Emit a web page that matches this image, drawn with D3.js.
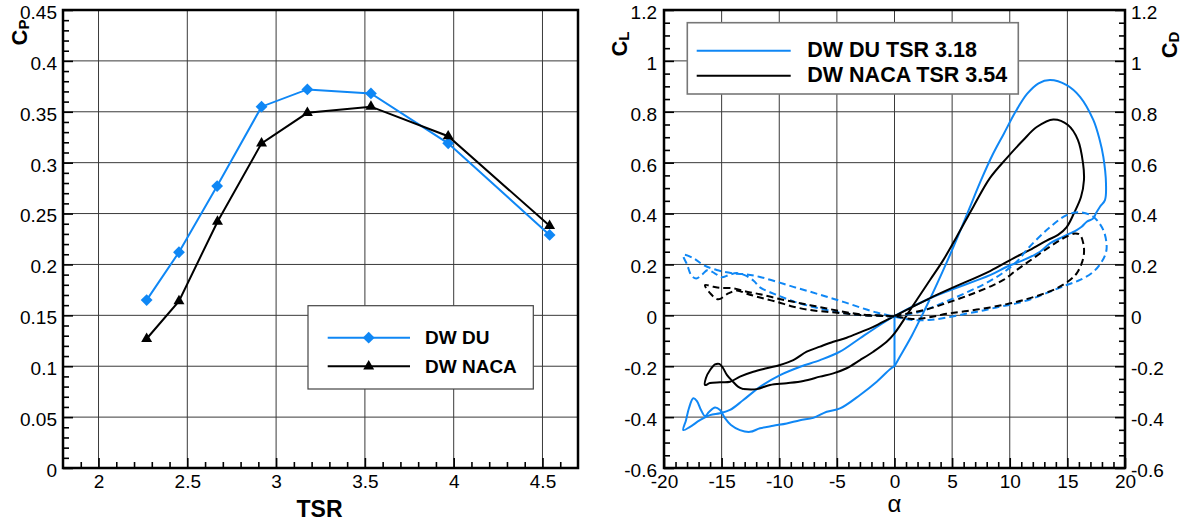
<!DOCTYPE html>
<html><head><meta charset="utf-8">
<script src="https://cdn.jsdelivr.net/npm/d3@7"></script>
<style>
body{margin:0;background:#fff;}
svg text{font-family:"Liberation Sans",Arial,Helvetica,sans-serif;}
</style></head><body>
<svg id="c" width="1198" height="524"></svg>
<script>
// ---------- Left chart data ----------
const tsrDU   = [2.271, 2.453, 2.668, 2.918, 3.176, 3.534, 3.969, 4.540];
const cpDU    = [0.165, 0.212, 0.277, 0.355, 0.372, 0.368, 0.319, 0.229];
const tsrNACA = [2.271, 2.453, 2.670, 2.918, 3.176, 3.534, 3.969, 4.540];
const cpNACA  = [0.127, 0.164, 0.242, 0.319, 0.349, 0.355, 0.326, 0.238];
const tsrTicks = [2, 2.5, 3, 3.5, 4, 4.5];
const cpTicks  = [0, 0.05, 0.1, 0.15, 0.2, 0.25, 0.3, 0.35, 0.4, 0.45];
const leftLegend = ["DW DU", "DW NACA"];

// ---------- Right chart data ([alpha, coefficient]) ----------
const duClJump = [[0, -0.005], [0, -0.2]];
const duCL = [[0,-0.2],[0.5,-0.16],[1.5,-0.08],[2.5,0.01],[3.5,0.105],[4.5,0.205],[5.5,0.31],[6.5,0.42],[7.5,0.53],[8.5,0.63],[9.5,0.715],[10.5,0.8],[11.5,0.87],[12.5,0.912],[13.5,0.925],[14.94,0.905],[16.1,0.859],[17.25,0.768],[17.8,0.69],[18.12,0.623],[18.35,0.519],[18.26,0.453],[17.83,0.427],[17.48,0.401],[17.25,0.381],[16.68,0.368],[16.24,0.348],[15.81,0.335],[15.23,0.322],[14.65,0.309],[13.49,0.283],[12.62,0.25],[11.18,0.217],[9.74,0.191],[8.29,0.158],[3.37,0.073],[-0.1,-0.005],[-1.26,-0.038],[-2.99,-0.09],[-4.73,-0.143],[-6.46,-0.176],[-8.18,-0.202],[-9.93,-0.235],[-11.67,-0.281],[-13.12,-0.333],[-14.27,-0.372],[-15.14,-0.385],[-16.01,-0.392],[-16.88,-0.412],[-17.74,-0.438],[-18.33,-0.451],[-18.09,-0.412],[-17.83,-0.364],[-17.46,-0.326],[-17.14,-0.337],[-16.79,-0.372],[-16.44,-0.396],[-16.1,-0.38],[-15.57,-0.362],[-15.14,-0.372],[-14.71,-0.404],[-14.19,-0.431],[-13.41,-0.451],[-12.54,-0.458],[-11.67,-0.444],[-10.52,-0.434],[-9.35,-0.425],[-8.2,-0.412],[-7.05,-0.403],[-5.88,-0.379],[-4.73,-0.366],[-2.99,-0.313],[-1.54,-0.261],[-0.39,-0.212],[0,-0.2]];
const nacaCL = [[-13.12,-0.29],[-11.96,-0.29],[-10.8,-0.274],[-9.35,-0.267],[-7.91,-0.258],[-6.46,-0.241],[-5.31,-0.228],[-4.15,-0.208],[-2.99,-0.176],[-1.84,-0.143],[-0.68,-0.104],[0,-0.071],[1.63,0.04],[3.08,0.139],[4.23,0.217],[5.4,0.309],[6.84,0.427],[8.29,0.54],[9.74,0.618],[11.18,0.689],[12.34,0.74],[13.78,0.77],[15.05,0.748],[15.92,0.689],[16.36,0.597],[16.44,0.532],[16.18,0.465],[15.57,0.401],[14.94,0.347],[14.19,0.316],[13.2,0.294],[11.76,0.257],[10.31,0.224],[8.29,0.174],[3.95,0.086],[-0.1,-0.005],[-1.84,-0.045],[-2.99,-0.067],[-4.15,-0.088],[-5.31,-0.104],[-6.46,-0.123],[-7.62,-0.143],[-8.78,-0.176],[-9.93,-0.195],[-11.1,-0.208],[-12.25,-0.222],[-13.41,-0.241],[-14.27,-0.261],[-15.14,-0.263],[-16.01,-0.266],[-16.44,-0.274],[-16.36,-0.246],[-16.0,-0.215],[-15.57,-0.193],[-15.2,-0.191],[-14.88,-0.207],[-14.53,-0.235],[-13.99,-0.262],[-13.58,-0.28],[-13.12,-0.29]];
const duCD = [[0,-0.005],[2.2,0.014],[4.5,0.055],[6.5,0.095],[8.0,0.128],[9.5,0.17],[10.74,0.217],[11.47,0.257],[13.2,0.335],[14.94,0.394],[16.1,0.405],[17.23,0.388],[18.12,0.335],[18.41,0.27],[18.3,0.24],[17.9,0.205],[17.25,0.171],[16.1,0.139],[14.94,0.119],[13.49,0.093],[12.04,0.067],[10.6,0.047],[9.15,0.034],[7.7,0.019],[6.3,0.007],[4.5,-0.009],[3.0,-0.018],[1.5,-0.018],[0,-0.005],[-1.54,0.011],[-2.99,0.031],[-4.44,0.053],[-5.88,0.073],[-7.33,0.093],[-8.78,0.112],[-10.22,0.132],[-11.67,0.151],[-12.82,0.161],[-13.99,0.165],[-15.43,0.178],[-16.59,0.198],[-17.46,0.225],[-18.33,0.237],[-18.0,0.2],[-17.6,0.155],[-17.2,0.145],[-16.7,0.16],[-16.2,0.178],[-15.6,0.165],[-15.0,0.15],[-14.4,0.158],[-13.7,0.166],[-13.0,0.158],[-12.2,0.135],[-11.67,0.11],[-10.22,0.08],[-8.78,0.055],[-7.33,0.036],[-5.88,0.021],[-4.44,0.009],[-2.99,0.001],[-1.54,-0.001],[0,-0.005]];
const nacaCD = [[0,-0.002],[2.6,0.021],[4.82,0.053],[6.84,0.086],[8.58,0.119],[9.45,0.139],[10.6,0.178],[12.04,0.224],[13.49,0.27],[14.65,0.303],[15.66,0.322],[16.1,0.316],[16.38,0.283],[16.44,0.244],[16.24,0.204],[15.81,0.165],[15.23,0.139],[14.08,0.106],[12.62,0.08],[11.18,0.06],[9.74,0.044],[8.29,0.031],[6.3,0.017],[4.5,0.006],[3.0,-0.008],[1.5,-0.014],[0,-0.004],[-1.54,0.0],[-2.99,0.004],[-4.44,0.014],[-5.88,0.027],[-7.33,0.04],[-8.78,0.053],[-10.22,0.067],[-11.67,0.083],[-12.82,0.093],[-13.99,0.106],[-15.14,0.108],[-15.7,0.112],[-16.44,0.119],[-16.0,0.087],[-15.3,0.063],[-14.42,0.086],[-13.69,0.098],[-12.82,0.085],[-11.67,0.07],[-10.22,0.053],[-8.78,0.034],[-7.33,0.021],[-5.88,0.014],[-4.44,0.008],[-2.99,0.001],[-1.54,-0.002],[0,-0.004]];
const alphaTicks = [-20, -15, -10, -5, 0, 5, 10, 15, 20];
const coefTicks  = [-0.6, -0.4, -0.2, 0, 0.2, 0.4, 0.6, 0.8, 1, 1.2];
const rightLegend = ["DW DU TSR 3.18", "DW NACA TSR 3.54"];

const BLUE = "#0f87f5", BLACK = "#000";
const svg = d3.select("#c");
const FONT = "Liberation Sans, Arial, Helvetica, sans-serif";
const fmt = d => String(d);

function styleAxis(g, fs, dy) {
  g.select(".domain").remove();
  g.attr("font-family", FONT).attr("font-size", fs);
  g.selectAll(".tick line").attr("stroke", "#000").attr("stroke-width", 1.6);
  g.selectAll(".tick text").attr("fill", "#000");
  if (dy !== undefined) g.selectAll(".tick text").attr("dy", dy);
}

// ================= LEFT CHART =================
const L = {l: 63, r: 578, t: 10, b: 468};
const xL = d3.scaleLinear([1.8, 4.7], [L.l, L.r]);
const yL = d3.scaleLinear([0, 0.45], [L.b, L.t]);
const gL = svg.append("g");

gL.append("g").selectAll("line").data(tsrTicks).join("line")
  .attr("x1", d => xL(d)).attr("x2", d => xL(d)).attr("y1", L.t).attr("y2", L.b)
  .attr("stroke", "#3a3a3a").attr("stroke-width", 1);
gL.append("g").selectAll("line").data(cpTicks.slice(1, -1)).join("line")
  .attr("y1", d => yL(d)).attr("y2", d => yL(d)).attr("x1", L.l).attr("x2", L.r)
  .attr("stroke", "#3a3a3a").attr("stroke-width", 1);

const minorTsr = d3.range(19, 47).map(v => v / 10).filter(v => !tsrTicks.some(t => Math.abs(t - v) < 1e-6));
const minorCp = d3.range(1, 45).map(v => v / 100).filter(v => !cpTicks.some(t => Math.abs(t - v) < 1e-6));
styleAxis(gL.append("g").attr("transform", `translate(0,${L.b})`)
  .call(d3.axisBottom(xL).tickValues(minorTsr).tickSize(-6).tickFormat("")), 19);
styleAxis(gL.append("g").attr("transform", `translate(0,${L.b})`)
  .call(d3.axisBottom(xL).tickValues(tsrTicks).tickSize(-10).tickPadding(7).tickFormat(fmt)), 19);
styleAxis(gL.append("g").attr("transform", `translate(${L.l},0)`)
  .call(d3.axisLeft(yL).tickValues(minorCp).tickSize(-6).tickFormat("")), 19);
styleAxis(gL.append("g").attr("transform", `translate(${L.l},0)`)
  .call(d3.axisLeft(yL).tickValues(cpTicks).tickSize(-10).tickPadding(6).tickFormat(fmt)), 19, "0.44em");

gL.append("rect").attr("x", L.l).attr("y", L.t).attr("width", L.r - L.l).attr("height", L.b - L.t)
  .attr("fill", "none").attr("stroke", "#000").attr("stroke-width", 2.5);

const lineL = d3.line().x(d => xL(d[0])).y(d => yL(d[1]));
const duPts = tsrDU.map((t, i) => [t, cpDU[i]]);
const nacaPts = tsrNACA.map((t, i) => [t, cpNACA[i]]);
const diamond = d3.symbol().type(d3.symbolSquare).size(70);
const triangle = d3.symbol().type(d3.symbolTriangle).size(52);

gL.append("path").attr("d", lineL(duPts)).attr("fill", "none").attr("stroke", BLUE).attr("stroke-width", 2);
gL.append("g").selectAll("path").data(duPts).join("path")
  .attr("transform", d => `translate(${xL(d[0])},${yL(d[1])}) rotate(45)`).attr("d", diamond).attr("fill", BLUE);
gL.append("path").attr("d", lineL(nacaPts)).attr("fill", "none").attr("stroke", BLACK).attr("stroke-width", 2);
gL.append("g").selectAll("path").data(nacaPts).join("path")
  .attr("transform", d => `translate(${xL(d[0])},${yL(d[1])})`).attr("d", triangle).attr("fill", BLACK);

const lg = gL.append("g");
lg.append("rect").attr("x", 308).attr("y", 305.7).attr("width", 225.3).attr("height", 83.3)
  .attr("fill", "#fff").attr("stroke", "#444").attr("stroke-width", 1.2);
[[BLUE, diamond, 337.7, 344, " rotate(45)"], [BLACK, triangle, 366.3, 372.7, ""]].forEach((e, i) => {
  lg.append("line").attr("x1", 327.7).attr("x2", 410).attr("y1", e[2]).attr("y2", e[2])
    .attr("stroke", e[0]).attr("stroke-width", 2);
  lg.append("path").attr("transform", `translate(368.7,${e[2]})${e[4]}`).attr("d", e[1]).attr("fill", e[0]);
  lg.append("text").attr("x", 425).attr("y", e[3]).attr("font-size", 19).attr("font-weight", "bold")
    .text(leftLegend[i]);
});

gL.append("text").attr("x", 319.5).attr("y", 516.5).attr("text-anchor", "middle")
  .attr("font-size", 23).attr("font-weight", "bold").text("TSR");
const cp = gL.append("text").attr("transform", "translate(26.5,32.5) rotate(-90)")
  .attr("text-anchor", "middle").attr("font-size", 22).attr("font-weight", "bold");
cp.append("tspan").text("C");
cp.append("tspan").attr("font-size", 15).attr("dy", 2).text("P");

// ================= RIGHT CHART =================
const R = {l: 664, r: 1125, t: 10, b: 468};
const xR = d3.scaleLinear([-20, 20], [R.l, R.r]);
const yR = d3.scaleLinear([-0.6, 1.2], [R.b, R.t]);
const gR = svg.append("g");

gR.append("g").selectAll("line").data(alphaTicks.slice(1, -1)).join("line")
  .attr("x1", d => xR(d)).attr("x2", d => xR(d)).attr("y1", R.t).attr("y2", R.b)
  .attr("stroke", "#3a3a3a").attr("stroke-width", 1);
gR.append("g").selectAll("line").data(coefTicks.slice(1, -1)).join("line")
  .attr("y1", d => yR(d)).attr("y2", d => yR(d)).attr("x1", R.l).attr("x2", R.r)
  .attr("stroke", "#3a3a3a").attr("stroke-width", 1);

const minorA = d3.range(-19, 20).filter(v => v % 5 !== 0);
const minorC = d3.range(-11, 24).map(v => v / 20).filter(v => Math.abs(v * 5 - Math.round(v * 5)) > 1e-6);
styleAxis(gR.append("g").attr("transform", `translate(0,${R.b})`)
  .call(d3.axisBottom(xR).tickValues(minorA).tickSize(-6).tickFormat("")), 19);
styleAxis(gR.append("g").attr("transform", `translate(0,${R.b})`)
  .call(d3.axisBottom(xR).tickValues(alphaTicks).tickSize(-10).tickPadding(7).tickFormat(fmt)), 19);
styleAxis(gR.append("g").attr("transform", `translate(${R.l},0)`)
  .call(d3.axisLeft(yR).tickValues(minorC).tickSize(-6).tickFormat("")), 19);
styleAxis(gR.append("g").attr("transform", `translate(${R.l},0)`)
  .call(d3.axisLeft(yR).tickValues(coefTicks).tickSize(-10).tickPadding(7).tickFormat(fmt)), 19, "0.44em");
styleAxis(gR.append("g").attr("transform", `translate(${R.r},0)`)
  .call(d3.axisRight(yR).tickValues(minorC).tickSize(-6).tickFormat("")), 19);
styleAxis(gR.append("g").attr("transform", `translate(${R.r},0)`)
  .call(d3.axisRight(yR).tickValues(coefTicks).tickSize(-10).tickPadding(6).tickFormat(fmt)), 19, "0.44em");

gR.append("rect").attr("x", R.l).attr("y", R.t).attr("width", R.r - R.l).attr("height", R.b - R.t)
  .attr("fill", "none").attr("stroke", "#000").attr("stroke-width", 2.5);

const lineR = d3.line().x(d => xR(d[0])).y(d => yR(d[1])).curve(d3.curveCatmullRom.alpha(0.5));
const lineRlin = d3.line().x(d => xR(d[0])).y(d => yR(d[1]));
gR.append("path").attr("d", lineRlin(duClJump)).attr("fill", "none").attr("stroke", BLUE).attr("stroke-width", 2);
gR.append("path").attr("d", lineR(duCL)).attr("fill", "none").attr("stroke", BLUE).attr("stroke-width", 2);
gR.append("path").attr("d", lineR(nacaCL)).attr("fill", "none").attr("stroke", BLACK).attr("stroke-width", 2);
gR.append("path").attr("d", lineR(duCD)).attr("fill", "none").attr("stroke", BLUE).attr("stroke-width", 2)
  .attr("stroke-dasharray", "7,4");
gR.append("path").attr("d", lineR(nacaCD)).attr("fill", "none").attr("stroke", BLACK).attr("stroke-width", 2)
  .attr("stroke-dasharray", "7,4");

const rg = gR.append("g");
rg.append("rect").attr("x", 687.3).attr("y", 22.7).attr("width", 331).attr("height", 71.3)
  .attr("fill", "#fff").attr("stroke", "#777").attr("stroke-width", 1.6);
[[BLUE, 50.7, 57.3], [BLACK, 75.7, 82.3]].forEach((e, i) => {
  rg.append("line").attr("x1", 696.7).attr("x2", 790.7).attr("y1", e[1]).attr("y2", e[1])
    .attr("stroke", e[0]).attr("stroke-width", 2);
  rg.append("text").attr("x", 807.3).attr("y", e[2]).attr("font-size", 21.5).attr("font-weight", "bold")
    .text(rightLegend[i]);
});

gR.append("text").attr("x", 894.5).attr("y", 512).attr("text-anchor", "middle")
  .attr("font-size", 24).text("α");
const cl = gR.append("text").attr("transform", "translate(626.5,44) rotate(-90)")
  .attr("text-anchor", "middle").attr("font-size", 22).attr("font-weight", "bold");
cl.append("tspan").text("C");
cl.append("tspan").attr("font-size", 15).attr("dy", 2).text("L");
const cd = gR.append("text").attr("transform", "translate(1176.5,45) rotate(-90)")
  .attr("text-anchor", "middle").attr("font-size", 22).attr("font-weight", "bold");
cd.append("tspan").text("C");
cd.append("tspan").attr("font-size", 15).attr("dy", 2).text("D");
</script>
</body></html>
